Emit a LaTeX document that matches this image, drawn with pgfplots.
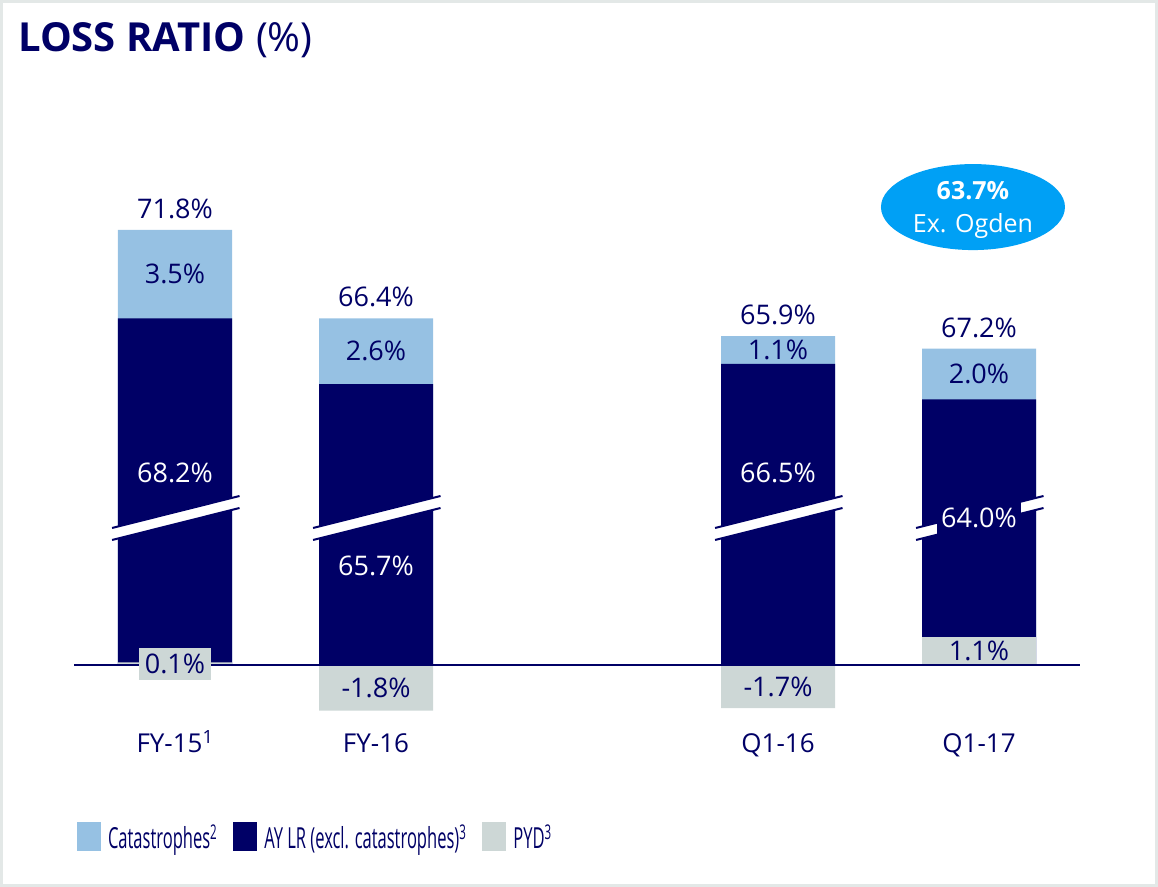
\documentclass[border=0pt]{standalone}
\usepackage{fontspec}
\setmainfont{Open Sans}
\newfontfamily\condfont[FakeStretch=0.57]{Open Sans}
\usepackage{pgfplots}
\pgfplotsset{compat=1.18}
\usepackage{pgfplotstable}
\definecolor{navy}{HTML}{000066}
\definecolor{catblue}{HTML}{96C1E3}
\definecolor{pydgray}{HTML}{CDD7D6}
\definecolor{ogden}{HTML}{00A0F5}
\definecolor{framegray}{HTML}{E3E8E7}

% x: category position; cat, ay, pyd: segments (%); total: loss ratio (%); aypos: label height
\pgfplotstableread{
x cat ay pyd total aypos
0 3.5 68.2 0.1 71.8 7.59
1 2.6 65.7 -1.8 66.4 3.91
3 1.1 66.5 -1.7 65.9 7.59
4 2.0 64.0 1.1 67.2 5.81
}\lossdata

\newcommand{\lab}{\fontsize{27bp}{32bp}\selectfont}
\pgfplotsset{
  sq legend/.style={legend image code/.code={\fill[##1] (0bp,-14.5bp) rectangle (24bp,14.5bp);}},
  valnode/.style={point meta=explicit,
    nodes near coords={\pgfmathprintnumber[fixed,fixed zerofill,precision=1,assume math mode=true]{\pgfplotspointmeta}\%}},
}
\newcommand{\brk}[2]{%
  \fill[white] (axis cs:#1,5.415) -- (axis cs:#2,6.680) -- (axis cs:#2,6.206) -- (axis cs:#1,4.941) -- cycle;
  \draw[navy,line width=2bp] (axis cs:#1,5.415) -- (axis cs:#2,6.680);
  \draw[navy,line width=2bp] (axis cs:#1,4.941) -- (axis cs:#2,6.206);
}

\begin{document}
\begin{tikzpicture}
\begin{axis}[
  x=201bp, y=25.3bp,
  xmin=-0.5, xmax=4.5, ymin=-3.44, ymax=20,
  clip=false,
  axis line style={draw=none},
  ytick=\empty,
  xtick={0,1,3,4},
  xticklabels={FY-15\textsuperscript{1}, FY-16, Q1-16, Q1-17},
  xtick style={draw=none},
  major tick length=0pt,
  xticklabel style={anchor=base, text=navy, font=\fontsize{26bp}{30bp}\selectfont},
  legend columns=3,
  legend cell align=left,
  legend style={draw=none, fill=none, inner sep=0pt, outer sep=0pt,
    at={(0.0025,-0.1417)}, anchor=west,
    font=\condfont\fontsize{29bp}{32bp}\selectfont, text=navy,
    nodes={inner sep=0pt, text height=25bp, text depth=0pt},
    /tikz/every odd column/.style={column sep=7bp},
    /tikz/every even column/.style={column sep=16bp}},
]
% frame and page
\coordinate (bbTL) at (axis cs:-0.87065,26.2846);
\coordinate (bbBR) at (axis cs:4.89055,-8.7747);
\draw[framegray, line width=3bp] (axis cs:-0.8632,26.225) rectangle (axis cs:4.8831,-8.715);

% bars (overlaid from zero)
\addplot[ybar, bar width=114bp, bar shift=0pt, fill=catblue, draw=none, sq legend]
  table[x=x, y expr={max(\thisrow{pyd},0)+\thisrow{ay}-54.6+\thisrow{cat}}] {\lossdata};
\addlegendentry{Catastrophes\textsuperscript{2}}
\addplot[ybar, bar width=114bp, bar shift=0pt, fill=navy, draw=none, sq legend]
  table[x=x, y expr={max(\thisrow{pyd},0)+\thisrow{ay}-54.6}] {\lossdata};
\addlegendentry{AY LR (excl. catastrophes)\textsuperscript{3}}
\addplot[ybar, bar width=114bp, bar shift=0pt, fill=pydgray, draw=none, sq legend]
  table[x=x, y=pyd] {\lossdata};
\addlegendentry{PYD\textsuperscript{3}}

% baseline
\draw[navy, line width=2bp] (axis cs:-0.5,0) -- (axis cs:4.5,0);

% axis breaks
\brk{-0.313}{0.321}
\brk{0.687}{1.321}
\brk{2.687}{3.321}
\brk{3.687}{4.321}

% labels
\addplot[draw=none, mark=none, forget plot, valnode,
  nodes near coords style={anchor=center, text=navy, font=\lab}]
  table[x=x, y expr={max(\thisrow{pyd},0)+\thisrow{ay}-54.6+\thisrow{cat}+0.83}, meta=total] {\lossdata};
\addplot[draw=none, mark=none, forget plot, valnode,
  nodes near coords style={anchor=center, text=navy, font=\lab}]
  table[x=x, y expr={max(\thisrow{pyd},0)+\thisrow{ay}-54.6+\thisrow{cat}/2}, meta=cat] {\lossdata};
\addplot[draw=none, mark=none, forget plot, valnode,
  nodes near coords style={anchor=center, text=white, font=\lab, fill=navy,
    minimum width=84bp, minimum height=43bp, inner sep=0pt}]
  table[x=x, y=aypos, meta=ay] {\lossdata};
\addplot[draw=none, mark=none, forget plot, valnode, skip coords between index={1}{4},
  nodes near coords style={anchor=center, text=navy, font=\lab, fill=pydgray,
    minimum width=71bp, minimum height=32bp, inner sep=0pt}]
  table[x=x, y expr={\thisrow{pyd}/2}, meta=pyd] {\lossdata};
\addplot[draw=none, mark=none, forget plot, valnode, skip coords between index={0}{1},
  nodes near coords style={anchor=center, text=navy, font=\lab}]
  table[x=x, y expr={\thisrow{pyd}/2}, meta=pyd] {\lossdata};

% title
\node[anchor=base west, text=navy, inner sep=0pt, font=\fontsize{40bp}{48bp}\selectfont]
  at (axis cs:-0.781,24.23) {\textbf{LOSS RATIO} (\%)};

% Ogden bubble
\fill[ogden] (axis cs:3.970,18.10) ellipse [x radius=92bp, y radius=43bp];
\node[text=white, align=center, inner sep=0pt, font=\fontsize{25bp}{33bp}\selectfont]
  at (axis cs:3.970,17.98) {\textbf{63.7\%}\\Ex. Ogden};
\end{axis}
\pgfresetboundingbox
\useasboundingbox (bbTL) rectangle (bbBR);
\end{tikzpicture}
\end{document}
